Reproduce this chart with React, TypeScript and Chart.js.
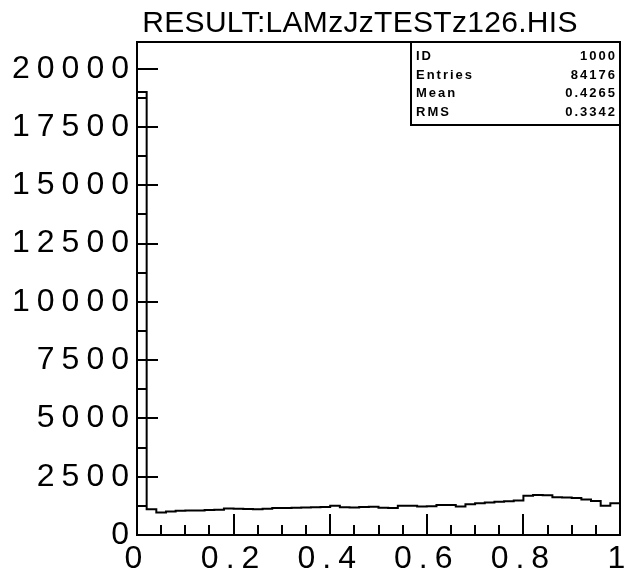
import { useEffect, useRef } from "react";
import { Chart, registerables } from "chart.js";

Chart.register(...registerables);

// Histogram 1000 of RESULT:LAMzJzTESTz126.HIS, 50 bins on [0, 1]
const histTitle = "RESULT:LAMzJzTESTz126.HIS";
const binWidth = 0.02;
const binCounts = [
  19000, 1100, 970, 1010, 1040, 1050, 1050, 1070, 1080, 1140,
  1130, 1120, 1110, 1130, 1160, 1160, 1170, 1180, 1190, 1200,
  1250, 1190, 1180, 1200, 1210, 1170, 1160, 1250, 1260, 1220,
  1230, 1290, 1290, 1220, 1320, 1360, 1390, 1430, 1450, 1480,
  1680, 1720, 1700, 1620, 1610, 1590, 1520, 1460, 1260, 1360,
];
const statsLabels = ["ID", "Entries", "Mean", "RMS"];
const statsValues = ["1000", "84176", "0.4265", "0.3342"];
const xTickValues = [0, 0.2, 0.4, 0.6, 0.8, 1];
const yTickValues = [0, 2500, 5000, 7500, 10000, 12500, 15000, 17500, 20000];
const xMinorStep = 0.05;
const yMinorStep = 1250;
const yMax = 21150;

const FONT = "'Liberation Sans', Arial, sans-serif";
const TICK_SPACING = "7px";

// Wide-spaced tick labels: Chart.js draws them with whatever spacing the context carries
const spacing = {
  id: "spacing",
  beforeDraw(chart: any) {
    chart.ctx.letterSpacing = TICK_SPACING;
  },
};

// Frame, inward tick marks, title and statistics box
const pawDecor = {
  id: "pawDecor",
  afterDraw(chart: any) {
    const { ctx, chartArea: a, scales } = chart;
    const xs = scales.x;
    const ys = scales.y;
    ctx.save();
    ctx.letterSpacing = "0px";
    ctx.strokeStyle = "#000";
    ctx.lineWidth = 2;
    ctx.lineCap = "butt";

    // x ticks: long at labelled values, short at minor steps
    for (let i = 0; i <= Math.round(1 / xMinorStep); i++) {
      const v = i * xMinorStep;
      const major = xTickValues.some((t) => Math.abs(t - v) < 1e-9);
      const px = Math.round(xs.getPixelForValue(v));
      ctx.beginPath();
      ctx.moveTo(px, a.bottom);
      ctx.lineTo(px, a.bottom - (major ? 21 : 10));
      ctx.stroke();
    }
    // y ticks
    for (let v = 0; v <= yMax; v += yMinorStep) {
      const major = yTickValues.includes(v);
      const py = Math.round(ys.getPixelForValue(v));
      ctx.beginPath();
      ctx.moveTo(a.left, py);
      ctx.lineTo(a.left + (major ? 21 : 10), py);
      ctx.stroke();
    }

    // statistics box
    const bx = 411;
    const by = a.top;
    const bw = a.right - bx;
    const bh = 83;
    ctx.fillStyle = "#fff";
    ctx.fillRect(bx, by, bw, bh);
    ctx.strokeRect(bx, by, bw, bh);
    ctx.fillStyle = "#000";
    ctx.font = `bold 13px ${FONT}`;
    ctx.letterSpacing = "2px";
    ctx.textBaseline = "alphabetic";
    statsLabels.forEach((lab, i) => {
      const y = by + 18 + i * 18.5;
      ctx.textAlign = "left";
      ctx.fillText(lab, bx + 5, y);
      ctx.textAlign = "right";
      ctx.fillText(statsValues[i], a.right - 3, y);
    });

    // frame
    ctx.letterSpacing = "0px";
    ctx.lineWidth = 2;
    ctx.strokeRect(a.left, a.top, a.right - a.left, a.bottom - a.top);

    // title
    ctx.font = `30px ${FONT}`;
    ctx.letterSpacing = "0.3px";
    ctx.textAlign = "center";
    ctx.textBaseline = "alphabetic";
    ctx.fillText(histTitle, 360, 32);
    ctx.restore();
    ctx.letterSpacing = "0px";
  },
};

export default function App() {
  const ref = useRef<HTMLCanvasElement>(null);

  useEffect(() => {
    document.body.style.margin = "0";
    // bin left edges, plus the closing edge at x = 1
    const points = binCounts.map((v, i) => ({ x: i * binWidth, y: v }));
    points.push({ x: 1, y: binCounts[binCounts.length - 1] });

    const chart = new Chart(ref.current as HTMLCanvasElement, {
      type: "line",
      data: {
        datasets: [
          {
            data: points,
            stepped: "before",
            borderColor: "#000",
            borderWidth: 2,
            pointRadius: 0,
            fill: false,
          },
        ],
      },
      options: {
        animation: false,
        responsive: false,
        layout: { padding: { top: 42, right: 4, left: 0, bottom: 0 } },
        plugins: {
          legend: { display: false },
          tooltip: { enabled: false },
          title: { display: false },
        },
        scales: {
          x: {
            type: "linear",
            min: 0,
            max: 1,
            grid: { display: false },
            border: { display: false },
            afterBuildTicks: (s: any) => {
              s.ticks = xTickValues.map((value) => ({ value }));
            },
            ticks: {
              autoSkip: false,
              color: "#000",
              font: { family: FONT, size: 32 },
              padding: -3,
              maxRotation: 0,
              callback: (v: any) => String(Math.round(Number(v) * 10) / 10),
            },
            afterFit: (s: any) => {
              s.height = 44;
              s.paddingLeft = 0;
              s.paddingRight = 0;
            },
          },
          y: {
            type: "linear",
            min: 0,
            max: yMax,
            grid: { display: false },
            border: { display: false },
            afterBuildTicks: (s: any) => {
              s.ticks = yTickValues.map((value) => ({ value }));
            },
            ticks: {
              autoSkip: false,
              color: "#000",
              font: { family: FONT, size: 32 },
              padding: -7,
              callback: (v: any) => String(v),
            },
            afterFit: (s: any) => {
              s.width = 137;
              s.paddingTop = 0;
              s.paddingBottom = 0;
            },
          },
        },
      },
      plugins: [spacing, pawDecor],
    });
    return () => chart.destroy();
  }, []);

  return <canvas ref={ref} width={624} height={579} style={{ display: "block" }} />;
}
